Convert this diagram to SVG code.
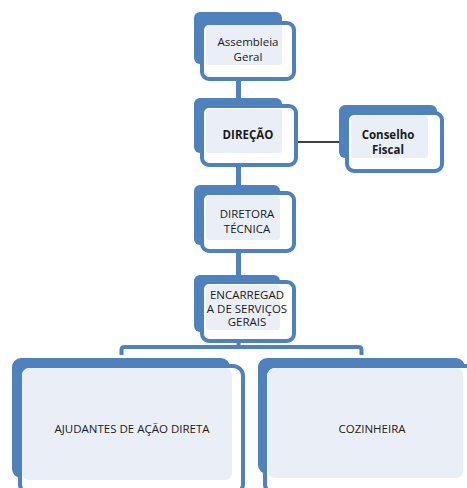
<svg xmlns="http://www.w3.org/2000/svg" width="467" height="488" viewBox="0 0 467 488">
<style>
.back{fill:#4F81BD}
.frame{fill:#FFFFFF;stroke:#4F81BD;stroke-width:4}
.light{fill:#EAEFF7}
.t{font-family:"Open Sans","Liberation Sans",sans-serif;font-size:11.5px;fill:#1a1a1a;text-anchor:middle}
.b{font-weight:bold}
.conn{fill:none;stroke:#4F81BD;stroke-width:5;stroke-linejoin:round}
</style>
<rect width="467" height="488" fill="#FFFFFF"/>
<g id="connectors">
<line class="conn" x1="238.5" y1="75" x2="238.5" y2="100"/>
<line class="conn" x1="238.5" y1="160" x2="238.5" y2="188"/>
<line class="conn" x1="238.5" y1="248" x2="238.5" y2="278"/>
<path class="conn" style="stroke-width:4" d="M238.5,338 V347"/>
<path class="conn" style="stroke-width:4" d="M121.5,355 V350 Q121.5,347 124.5,347 H358.5 Q361.5,347 361.5,350 V355"/>
<line x1="297" y1="142" x2="348" y2="142" stroke="#000000" stroke-width="1.5"/>
</g>
<g id="assembleia">
<rect class="back" x="194" y="12" width="88" height="52" rx="6"/>
<rect class="frame" x="202" y="23" width="92" height="56" rx="7"/>
<rect class="light" x="206" y="25" width="76" height="40" rx="3"/>
<text class="t" x="248" y="46">Assembleia</text>
<text class="t" x="248" y="61">Geral</text>
</g>
<g id="direcao">
<rect class="back" x="194" y="98" width="88" height="55" rx="6"/>
<rect class="frame" x="202" y="106" width="94" height="59" rx="7"/>
<rect class="light" x="206" y="109" width="76" height="44" rx="3"/>
<text class="t b" x="248" y="139">DIREÇÃO</text>
</g>
<g id="conselho">
<rect class="back" x="339" y="105" width="98" height="53" rx="6"/>
<rect class="frame" x="347" y="113" width="95" height="58" rx="7"/>
<rect class="light" x="351" y="116" width="77" height="42" rx="3"/>
<text class="t b" x="388" y="139">Conselho</text>
<text class="t b" x="388" y="154">Fiscal</text>
</g>
<g id="diretora">
<rect class="back" x="194" y="185" width="86" height="60" rx="6"/>
<rect class="frame" x="202" y="193" width="92" height="58" rx="7"/>
<rect class="light" x="206" y="196" width="74" height="44" rx="3"/>
<text class="t" x="247" y="218">DIRETORA</text>
<text class="t" x="247" y="233">TÉCNICA</text>
</g>
<g id="encarregada">
<rect class="back" x="194" y="275" width="86" height="57" rx="6"/>
<rect class="frame" x="202" y="282" width="92" height="59" rx="7"/>
<rect class="light" x="206" y="285" width="74" height="45" rx="3"/>
<text class="t" x="247" y="299">ENCARREGAD</text>
<text class="t" x="247" y="312.5">A DE SERVIÇOS</text>
<text class="t" x="247" y="326">GERAIS</text>
</g>
<g id="ajudantes">
<rect class="back" x="12" y="358" width="218" height="120" rx="9"/>
<rect class="frame" x="20" y="366" width="223" height="128" rx="10"/>
<rect class="light" x="22" y="368" width="210" height="112" rx="7"/>
<text class="t" x="132" y="433">AJUDANTES DE AÇÃO DIRETA</text>
</g>
<g id="cozinheira">
<rect class="back" x="258" y="358" width="207" height="116" rx="9"/>
<rect class="frame" x="265" y="366" width="225" height="128" rx="10"/>
<rect class="light" x="268" y="368" width="195" height="110" rx="7"/>
<text class="t" x="372" y="433">COZINHEIRA</text>
</g>
</svg>
